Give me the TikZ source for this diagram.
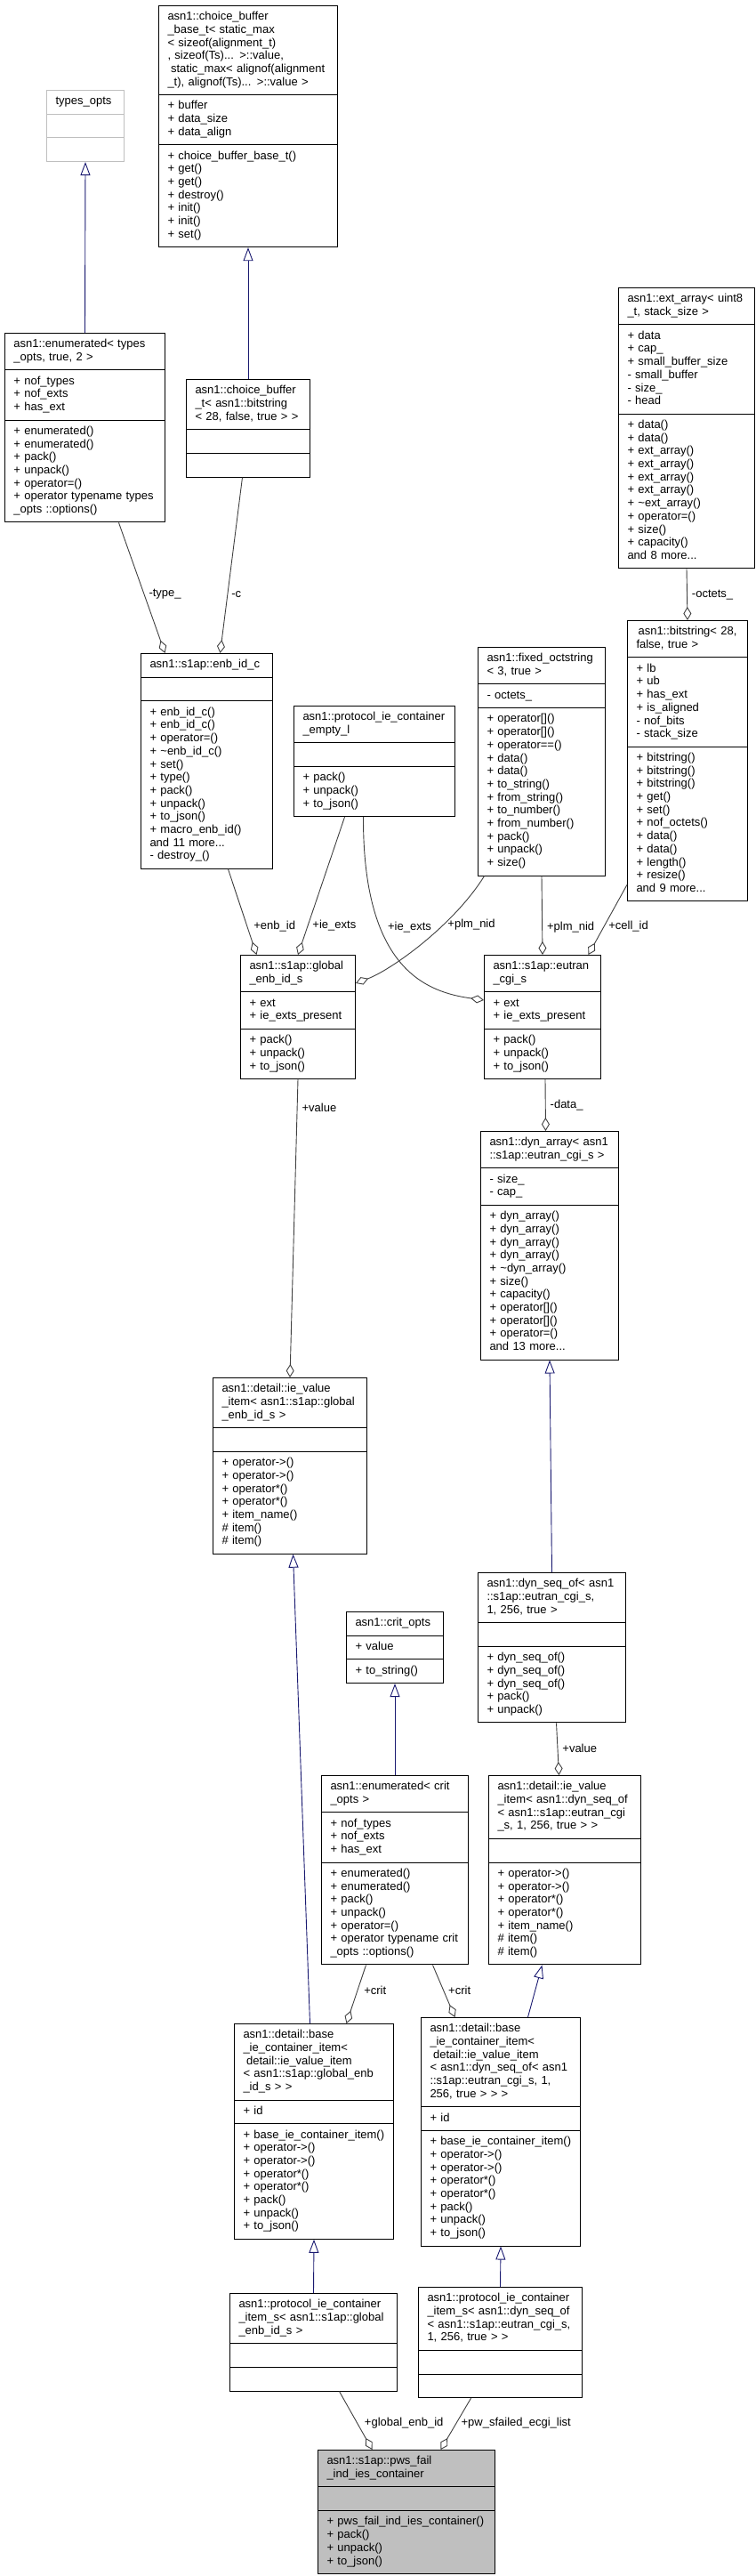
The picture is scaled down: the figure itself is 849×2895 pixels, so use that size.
\documentclass[tikz,border=0pt]{standalone}
\usepackage{fontspec}
\setmainfont{Liberation Sans}
\usepackage{tikz}
\usetikzlibrary{arrows.meta, shapes.multipart}
\definecolor{DoxBlue}{HTML}{191970}
\definecolor{DoxGrey}{HTML}{404040}
\definecolor{DoxLight}{HTML}{BFBFBF}
\newcommand\sx{\rule[-4.4pt]{0pt}{14.7pt}}
\newcommand\cp[1]{\rightskip=-6pt plus 1fil\relax\sx#1\sx}
\newcommand\lastc{\par\centering}
\newcommand\lsp{\hspace*{3.6pt}}
\hyphenpenalty=10000
\exhyphenpenalty=10000

\begin{document}
\begin{tikzpicture}[x=1pt, y=-1pt,
    cls/.style={rectangle split, rectangle split parts=3, draw=black,
      line width=1pt, fill=white, anchor=north west, inner xsep=10pt,
      inner ysep=5.5pt, align=left, font=\fontsize{13}{14.7}\selectfont},
    inh/.style={draw=DoxBlue, line width=0.9pt,
      -{Triangle[open, length=15pt, width=11pt]}},
    usage/.style={draw=DoxGrey, line width=0.9pt,
      -{Diamond[open, length=15pt, width=9pt]}},
    lbl/.style={anchor=west, inner sep=1pt, xshift=4pt,
      font=\fontsize{13}{14.7}\selectfont}
  ]
    \useasboundingbox (0,0) rectangle (849,2895);

    \node[cls, text width=67pt, draw=DoxLight] (tyo) at (52,101)
      {\cp{\centering types\_opts}\nodepart{two}\cp{}\nodepart{three}\cp{}};
    \node[cls, text width=181pt] (cbb) at (178,6)
      {\cp{asn1::choice\_buffer\\\_base\_t< static\_max\\< sizeof(alignment\_t)\\, sizeof(Ts)... >::value,\\\lsp static\_max< alignof(alignment\lastc \_t), alignof(Ts)... >::value >}%
       \nodepart{two}\cp{+ buffer\\+ data\_size\\+ data\_align}%
       \nodepart{three}\cp{+ choice\_buffer\_base\_t()\\+ get()\\+ get()\\+ destroy()\\+ init()\\+ init()\\+ set()}};
    \node[cls, text width=160pt] (ent) at (5,374)
      {\cp{asn1::enumerated< types\lastc \_opts, true, 2 >}%
       \nodepart{two}\cp{+ nof\_types\\+ nof\_exts\\+ has\_ext}%
       \nodepart{three}\cp{+ enumerated()\\+ enumerated()\\+ pack()\\+ unpack()\\+ operator=()\\+ operator typename types\\\_opts ::options()}};
    \node[cls, text width=119pt] (cbt) at (209,426)
      {\cp{asn1::choice\_buffer\\\_t< asn1::bitstring\lastc < 28, false, true > >}%
       \nodepart{two}\cp{}\nodepart{three}\cp{}};
    \node[cls, text width=133pt] (exa) at (695,323)
      {\cp{asn1::ext\_array< uint8\lastc \_t, stack\_size >}%
       \nodepart{two}\cp{+ data\\+ cap\_\\+ small\_buffer\_size\\- small\_buffer\\- size\_\\- head}%
       \nodepart{three}\cp{+ data()\\+ data()\\+ ext\_array()\\+ ext\_array()\\+ ext\_array()\\+ ext\_array()\\+ \textasciitilde ext\_array()\\+ operator=()\\+ size()\\+ capacity()\\and 8 more...}};
    \node[cls, text width=128pt] (enb) at (158,734)
      {\cp{\centering asn1::s1ap::enb\_id\_c}\nodepart{two}\cp{}%
       \nodepart{three}\cp{+ enb\_id\_c()\\+ enb\_id\_c()\\+ operator=()\\+ \textasciitilde enb\_id\_c()\\+ set()\\+ type()\\+ pack()\\+ unpack()\\+ to\_json()\\+ macro\_enb\_id()\\and 11 more...\\- destroy\_()}};
    \node[cls, text width=161pt] (pce) at (330,793)
      {\cp{asn1::protocol\_ie\_container\lastc \_empty\_l}\nodepart{two}\cp{}%
       \nodepart{three}\cp{+ pack()\\+ unpack()\\+ to\_json()}};
    \node[cls, text width=123pt] (fos) at (537,727)
      {\cp{asn1::fixed\_octstring\lastc < 3, true >}\nodepart{two}\cp{- octets\_}%
       \nodepart{three}\cp{+ operator[]()\\+ operator[]()\\+ operator==()\\+ data()\\+ data()\\+ to\_string()\\+ from\_string()\\+ to\_number()\\+ from\_number()\\+ pack()\\+ unpack()\\+ size()}};
    \node[cls, text width=115pt] (bst) at (705,697)
      {\cp{\centering asn1::bitstring< 28,\\false, true >}%
       \nodepart{two}\cp{+ lb\\+ ub\\+ has\_ext\\+ is\_aligned\\- nof\_bits\\- stack\_size}%
       \nodepart{three}\cp{+ bitstring()\\+ bitstring()\\+ bitstring()\\+ get()\\+ set()\\+ nof\_octets()\\+ data()\\+ data()\\+ length()\\+ resize()\\and 9 more...}};
    \node[cls, text width=109pt] (gen) at (270,1073)
      {\cp{asn1::s1ap::global\lastc \_enb\_id\_s}\nodepart{two}\cp{+ ext\\+ ie\_exts\_present}%
       \nodepart{three}\cp{+ pack()\\+ unpack()\\+ to\_json()}};
    \node[cls, text width=111pt] (ecg) at (544,1073)
      {\cp{asn1::s1ap::eutran\lastc \_cgi\_s}\nodepart{two}\cp{+ ext\\+ ie\_exts\_present}%
       \nodepart{three}\cp{+ pack()\\+ unpack()\\+ to\_json()}};
    \node[cls, text width=135pt] (dya) at (540,1271)
      {\cp{asn1::dyn\_array< asn1\lastc ::s1ap::eutran\_cgi\_s >}\nodepart{two}\cp{- size\_\\- cap\_}%
       \nodepart{three}\cp{+ dyn\_array()\\+ dyn\_array()\\+ dyn\_array()\\+ dyn\_array()\\+ \textasciitilde dyn\_array()\\+ size()\\+ capacity()\\+ operator[]()\\+ operator[]()\\+ operator=()\\and 13 more...}};
    \node[cls, text width=153pt] (ivg) at (239,1548)
      {\cp{asn1::detail::ie\_value\\\_item< asn1::s1ap::global\lastc \_enb\_id\_s >}\nodepart{two}\cp{}%
       \nodepart{three}\cp{+ operator->()\\+ operator->()\\+ operator*()\\+ operator*()\\+ item\_name()\\\# item()\\\# item()}};
    \node[cls, text width=89pt] (cro) at (389,1811)
      {\cp{\centering asn1::crit\_opts}\nodepart{two}\cp{+ value}\nodepart{three}\cp{+ to\_string()}};
    \node[cls, text width=146pt] (dso) at (537,1767)
      {\cp{asn1::dyn\_seq\_of< asn1\\::s1ap::eutran\_cgi\_s,\lastc 1, 256, true >}\nodepart{two}\cp{}%
       \nodepart{three}\cp{+ dyn\_seq\_of()\\+ dyn\_seq\_of()\\+ dyn\_seq\_of()\\+ pack()\\+ unpack()}};
    \node[cls, text width=145pt] (enc) at (361,1995)
      {\cp{asn1::enumerated< crit\lastc \_opts >}\nodepart{two}\cp{+ nof\_types\\+ nof\_exts\\+ has\_ext}%
       \nodepart{three}\cp{+ enumerated()\\+ enumerated()\\+ pack()\\+ unpack()\\+ operator=()\\+ operator typename crit\\\_opts ::options()}};
    \node[cls, text width=151pt] (ivd) at (549,1995)
      {\cp{asn1::detail::ie\_value\\\_item< asn1::dyn\_seq\_of\\< asn1::s1ap::eutran\_cgi\lastc \_s, 1, 256, true > >}\nodepart{two}\cp{}%
       \nodepart{three}\cp{+ operator->()\\+ operator->()\\+ operator*()\\+ operator*()\\+ item\_name()\\\# item()\\\# item()}};
    \node[cls, text width=159pt] (bcg) at (263,2274)
      {\cp{asn1::detail::base\\\_ie\_container\_item<\\\lsp detail::ie\_value\_item\\< asn1::s1ap::global\_enb\lastc \_id\_s > >}\nodepart{two}\cp{+ id}%
       \nodepart{three}\cp{+ base\_ie\_container\_item()\\+ operator->()\\+ operator->()\\+ operator*()\\+ operator*()\\+ pack()\\+ unpack()\\+ to\_json()}};
    \node[cls, text width=159pt] (bdy) at (473,2267)
      {\cp{asn1::detail::base\\\_ie\_container\_item<\\\lsp detail::ie\_value\_item\\< asn1::dyn\_seq\_of< asn1\\::s1ap::eutran\_cgi\_s, 1,\lastc 256, true > > >}\nodepart{two}\cp{+ id}%
       \nodepart{three}\cp{+ base\_ie\_container\_item()\\+ operator->()\\+ operator->()\\+ operator*()\\+ operator*()\\+ pack()\\+ unpack()\\+ to\_json()}};
    \node[cls, text width=168pt] (pcg) at (258,2577)
      {\cp{asn1::protocol\_ie\_container\\\_item\_s< asn1::s1ap::global\lastc \_enb\_id\_s >}%
       \nodepart{two}\cp{}\nodepart{three}\cp{}};
    \node[cls, text width=164pt] (pcd) at (470,2570)
      {\cp{asn1::protocol\_ie\_container\\\_item\_s< asn1::dyn\_seq\_of\\< asn1::s1ap::eutran\_cgi\_s,\lastc 1, 256, true > >}%
       \nodepart{two}\cp{}\nodepart{three}\cp{}};
    \node[cls, text width=179pt, fill=DoxLight] (pws) at (357,2753)
      {\cp{asn1::s1ap::pws\_fail\lastc \_ind\_ies\_container}\nodepart{two}\cp{}%
       \nodepart{three}\cp{+ pws\_fail\_ind\_ies\_container()\\+ pack()\\+ unpack()\\+ to\_json()}};

    \draw[inh] (ent.north) -- (tyo.south);
    \draw[inh] (cbt.north) -- (cbb.south);
    \draw[inh] (dso.north) -- (dya.south);
    \draw[inh] ([xshift=-4.5pt]bcg.north) -- ([xshift=3.5pt]ivg.south);
    \draw[inh] (enc.north) -- (cro.south);
    \draw[inh] ([xshift=30.5pt]bdy.north) -- ([xshift=-25.5pt]ivd.south);
    \draw[inh] (pcg.north) -- (bcg.south);
    \draw[inh] (pcd.north) -- (bdy.south);

    \draw[usage] ([xshift=38pt]ent.south) -- ([xshift=-47pt]enb.north)
      node[lbl, pos=.55] {-type\_};
    \draw[usage] ([xshift=-6.5pt]cbt.south) -- ([xshift=15pt]enb.north)
      node[lbl, pos=.665, xshift=-1pt] {-c};
    \draw[usage] (exa.south) -- (bst.north)
      node[lbl, pos=.5] {-octets\_};
    \draw[usage] ([xshift=24pt]enb.south) -- ([xshift=-46.5pt]gen.north)
      node[lbl, pos=.67, xshift=2pt] {+enb\_id};
    \draw[usage] ([xshift=-33.5pt]pce.south) -- (gen.north)
      node[lbl, pos=.79] {+ie\_exts};
    \draw[usage] ([xshift=-12.5pt]pce.south) .. controls (408,1090) and (480,1115) .. ([yshift=19pt]ecg.west)
      node[lbl, pos=.32, xshift=3pt] {+ie\_exts};
    \draw[usage] ([xshift=-64.5pt]fos.south) .. controls (510,1040) and (440,1090) .. ([yshift=38pt]gen.east)
      node[lbl, pos=.35] {+plm\_nid};
    \draw[usage] (fos.south) -- (ecg.north)
      node[lbl, pos=.65] {+plm\_nid};
    \draw[usage] ([yshift=19pt]bst.south west) -- ([xshift=51.5pt]ecg.north)
      node[lbl, pos=.6] {+cell\_id};
    \draw[usage] (gen.south) -- (ivg.north)
      node[lbl, pos=.094] {+value};
    \draw[usage] ([xshift=3pt]ecg.south) -- ([xshift=-4.5pt]dya.north)
      node[lbl, pos=.5] {-data\_};
    \draw[usage] ([xshift=5pt]dso.south) -- ([xshift=-6.5pt]ivd.north)
      node[lbl, pos=.49] {+value};
    \draw[usage] ([xshift=-32.5pt]enc.south) -- ([xshift=36.5pt]bcg.north)
      node[lbl, pos=.44, xshift=2pt] {+crit};
    \draw[usage] ([xshift=42.5pt]enc.south) -- ([xshift=-51.5pt]bdy.north)
      node[lbl, pos=.49] {+crit};
    \draw[usage] ([xshift=29pt]pcg.south) -- ([xshift=-38.5pt]pws.north)
      node[lbl, pos=.54, xshift=3pt] {+global\_enb\_id};
    \draw[usage] ([xshift=-33pt]pcd.south) -- ([xshift=38.5pt]pws.north)
      node[lbl, pos=.48] {+pw\_sfailed\_ecgi\_list};
  \end{tikzpicture}
\end{document}
